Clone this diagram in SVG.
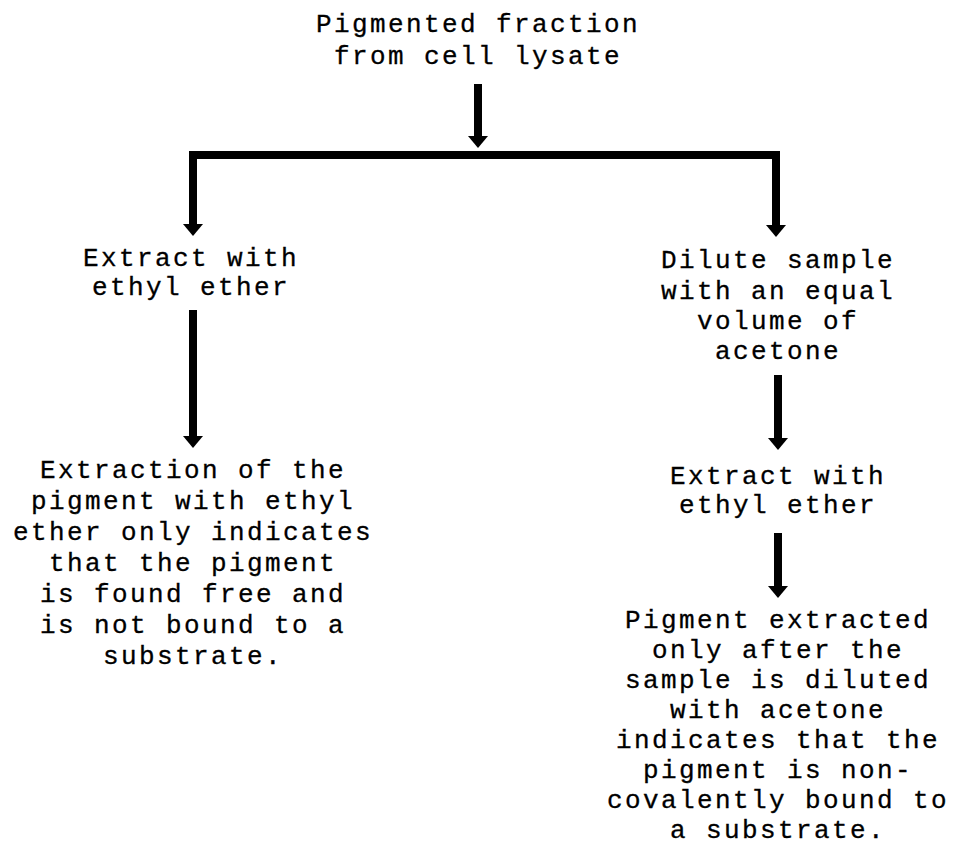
<svg xmlns="http://www.w3.org/2000/svg" width="955" height="854" viewBox="0 0 955 854">
<style>
text{font-family:"Liberation Mono","Courier New",monospace;font-size:26px;letter-spacing:2.4px;fill:#000;stroke:#000;stroke-width:0.3px;text-anchor:middle}
.c{fill:none;stroke:#000;stroke-width:8;stroke-linejoin:miter;stroke-linecap:butt}
</style>
<defs>
<marker id="ah" viewBox="0 0 12 20" refX="0" refY="10" markerWidth="12" markerHeight="20" markerUnits="userSpaceOnUse" orient="auto-start-reverse">
<path d="M0,0 L12,10 L0,20 Z" fill="#000"/>
</marker>
</defs>
<rect width="955" height="854" fill="#fff"/>
<g id="connectors">
<path class="c" d="M478,84 V136" marker-end="url(#ah)"/>
<path class="c" d="M193,224 V155 H776 V225" marker-start="url(#ah)" marker-end="url(#ah)"/>
<path class="c" d="M193,310 V436" marker-end="url(#ah)"/>
<path class="c" d="M778,375 V438" marker-end="url(#ah)"/>
<path class="c" d="M778,533 V586" marker-end="url(#ah)"/>
</g>
<g id="n_start">
<text x="478" y="32">Pigmented fraction</text>
<text x="478" y="64">from cell lysate</text>
</g>
<g id="n_extract_left">
<text x="191" y="266">Extract with</text>
<text x="191" y="295">ethyl ether</text>
</g>
<g id="n_dilute">
<text x="778" y="268">Dilute sample</text>
<text x="778" y="299">with an equal</text>
<text x="778" y="329">volume of</text>
<text x="778" y="359">acetone</text>
</g>
<g id="n_extract_right">
<text x="778" y="484">Extract with</text>
<text x="778" y="513">ethyl ether</text>
</g>
<g id="n_result_left">
<text x="193" y="478">Extraction of the</text>
<text x="193" y="509">pigment with ethyl</text>
<text x="193" y="540">ether only indicates</text>
<text x="193" y="571">that the pigment</text>
<text x="193" y="602">is found free and</text>
<text x="193" y="633">is not bound to a</text>
<text x="193" y="664">substrate.</text>
</g>
<g id="n_result_right">
<text x="778" y="628">Pigment extracted</text>
<text x="778" y="658">only after the</text>
<text x="778" y="688">sample is diluted</text>
<text x="778" y="718">with acetone</text>
<text x="778" y="748">indicates that the</text>
<text x="778" y="778">pigment is non-</text>
<text x="778" y="808">covalently bound to</text>
<text x="778" y="838">a substrate.</text>
</g>
</svg>
